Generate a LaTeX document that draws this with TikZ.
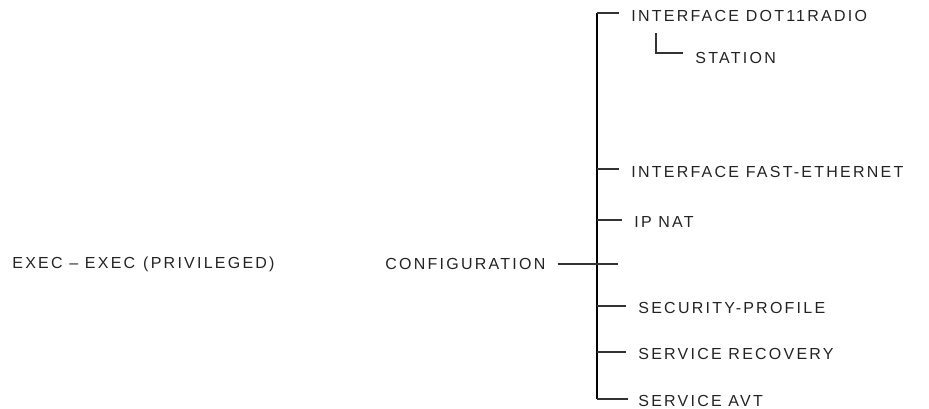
\documentclass[tikz,border=0pt]{standalone}
\usepackage{fontspec}
\setmainfont{Liberation Sans}[LetterSpace=14]
\usetikzlibrary{positioning}
\definecolor{cmdtext}{RGB}{35,35,35}

\begin{document}
\begin{tikzpicture}[x=0.5pt, y=-0.5pt,
    mode/.style={font=\fontsize{8}{9}\selectfont, text=cmdtext, inner sep=0pt, anchor=west},
    trunk/.style={line width=1pt, draw=black},
    tick/.style={line width=0.8pt, draw=black!80, shorten >=6pt}
  ]
  \useasboundingbox (0,0) rectangle (929,408);

  % modes on the left
  \node[mode] (exec) at (12,264) {EXEC -- EXEC\enspace(PRIVILEGED)};
  \node[mode] (config) at (385,264) {CONFIGURATION};

  % sub modes of configuration
  \node[mode] (dot11) at (631,16) {INTERFACE DOT11RADIO};
  \node[mode] (station) at (695,58) {STATION};
  \node[mode] (fastether) at (631,172) {INTERFACE FAST-ETHERNET};
  \node[mode] (ipnat) at (634,222) {IP NAT};
  \node[mode] (secprof) at (638,308) {SECURITY-PROFILE};
  \node[mode] (servrec) at (638,354) {SERVICE RECOVERY};
  \node[mode] (servavt) at (638,401) {SERVICE AVT};

  \coordinate (top) at (597,13);
  \coordinate (b2) at (597,169);
  \coordinate (b3) at (597,220);
  \coordinate (cross) at (618,264);
  \coordinate (b4) at (597,306);
  \coordinate (b5) at (597,352);
  \coordinate (bot) at (597,399);
  \coordinate (subtop) at (656,33);
  \coordinate (subcorner) at (656,53);

  \draw[trunk] (top) -- (bot);
  \draw[tick] (top) -- (top -| dot11.west);
  \draw[tick] (subtop) -- (subcorner) -- (subcorner -| station.west);
  \draw[tick] (b2) -- (b2 -| fastether.west);
  \draw[tick] (b3) -- (b3 -| ipnat.west);
  \draw[tick, shorten >=0pt, shorten <=6pt] (config.east) -- (cross);
  \draw[tick] (b4) -- (b4 -| secprof.west);
  \draw[tick] (b5) -- (b5 -| servrec.west);
  \draw[tick, shorten >=5pt] (bot) -- (bot -| servavt.west);
\end{tikzpicture}
\end{document}
